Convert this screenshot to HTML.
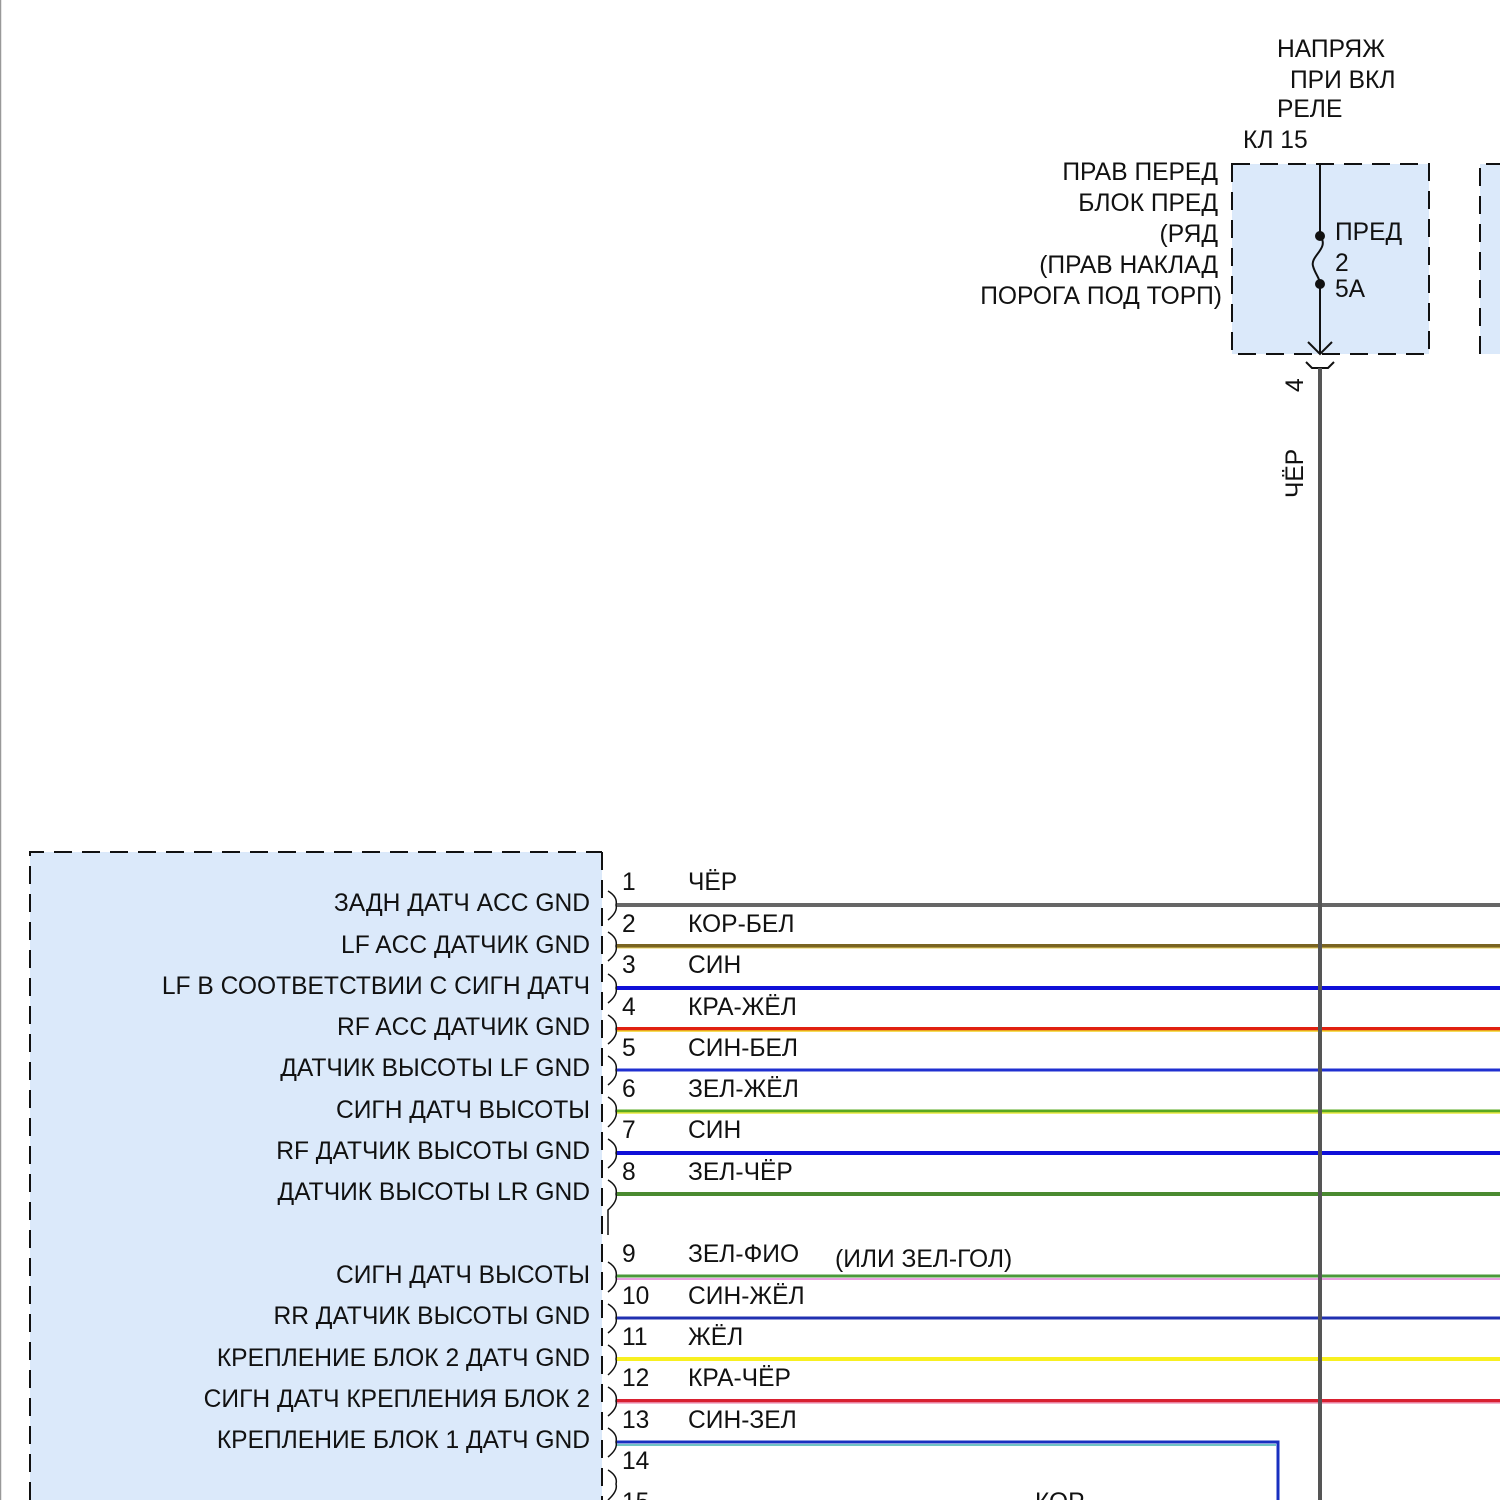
<!DOCTYPE html>
<html><head><meta charset="utf-8"><style>
html,body{margin:0;padding:0;background:#fff;}
svg{display:block;}
text{font-family:"Liberation Sans",sans-serif;font-size:24.6px;fill:#111;}
</style></head><body>
<svg width="1500" height="1500" viewBox="0 0 1500 1500" xmlns="http://www.w3.org/2000/svg">
<rect width="1500" height="1500" fill="#fff"/>
<line x1="0.5" y1="0" x2="0.5" y2="1500" stroke="#999" stroke-width="1.5"/>

<text x="1277" y="57">НАПРЯЖ</text>
<text x="1290" y="88">ПРИ ВКЛ</text>
<text x="1277" y="117">РЕЛЕ</text>
<text x="1243" y="148">КЛ 15</text>
<g text-anchor="end">
<text x="1218" y="180">ПРАВ ПЕРЕД</text>
<text x="1218" y="211">БЛОК ПРЕД</text>
<text x="1218" y="242">(РЯД</text>
<text x="1218" y="273">(ПРАВ НАКЛАД</text>
<text x="1222" y="304">ПОРОГА ПОД ТОРП)</text>
</g>

<rect x="1232" y="164" width="197" height="190" fill="#dbe9fa"/>
<rect x="1232" y="164" width="197" height="190" fill="none" stroke="#111" stroke-width="2" stroke-dasharray="18,10"/>
<rect x="1480" y="164" width="40" height="190" fill="#dbe9fa"/>
<path d="M1480 354 V164 H1500" fill="none" stroke="#111" stroke-width="2" stroke-dasharray="18,10"/>
<line x1="1320" y1="164" x2="1320" y2="236" stroke="#111" stroke-width="2"/>
<path d="M1320 236 C1330 248 1310 256 1313 266 C1315 274 1320 278 1320 284" fill="none" stroke="#111" stroke-width="2"/>
<circle cx="1320" cy="236" r="5" fill="#111"/>
<circle cx="1320" cy="284" r="5" fill="#111"/>
<line x1="1320" y1="284" x2="1320" y2="354" stroke="#111" stroke-width="2"/>
<path d="M1308 342 L1320 354 L1332 342" fill="none" stroke="#111" stroke-width="2"/>
<path d="M1306 362 L1312 368 H1328 L1334 362" fill="none" stroke="#111" stroke-width="2"/>
<text x="1335" y="240">ПРЕД</text>
<text x="1335" y="271">2</text>
<text x="1335" y="297">5A</text>
<line x1="1320" y1="368" x2="1320" y2="1500" stroke="#555" stroke-width="4"/>
<text transform="translate(1303,392) rotate(-90)" font-size="22">4</text>
<text transform="translate(1303,498) rotate(-90)" font-size="22">ЧЁР</text>

<rect x="30" y="852" width="572" height="660" fill="#dbe9fa"/>
<path d="M30 1500 V852 H602" fill="none" stroke="#111" stroke-width="2" stroke-dasharray="18,10"/>
<line x1="602" y1="852" x2="602" y2="1500" stroke="#111" stroke-width="2" stroke-dasharray="18,10"/>

<g text-anchor="end">
<text x="590" y="911">ЗАДН ДАТЧ ACC GND</text>
<text x="590" y="953">LF ACC ДАТЧИК GND</text>
<text x="590" y="994">LF В СООТВЕТСТВИИ С СИГН ДАТЧ</text>
<text x="590" y="1035">RF ACC ДАТЧИК GND</text>
<text x="590" y="1076">ДАТЧИК ВЫСОТЫ LF GND</text>
<text x="590" y="1118">СИГН ДАТЧ ВЫСОТЫ</text>
<text x="590" y="1159">RF ДАТЧИК ВЫСОТЫ GND</text>
<text x="590" y="1200">ДАТЧИК ВЫСОТЫ LR GND</text>
<text x="590" y="1283">СИГН ДАТЧ ВЫСОТЫ</text>
<text x="590" y="1324">RR ДАТЧИК ВЫСОТЫ GND</text>
<text x="590" y="1366">КРЕПЛЕНИЕ БЛОК 2 ДАТЧ GND</text>
<text x="590" y="1407">СИГН ДАТЧ КРЕПЛЕНИЯ БЛОК 2</text>
<text x="590" y="1448">КРЕПЛЕНИЕ БЛОК 1 ДАТЧ GND</text>
</g>

<g>
<line x1="616" y1="905" x2="1500" y2="905" stroke="#666" stroke-width="4"/>
<line x1="616" y1="946" x2="1500" y2="946" stroke="#7a6422" stroke-width="4"/>
<line x1="616" y1="948" x2="1500" y2="948" stroke="#e8d060" stroke-width="1"/>
<line x1="616" y1="988" x2="1500" y2="988" stroke="#1010d8" stroke-width="4"/>
<line x1="616" y1="1029" x2="1500" y2="1029" stroke="#e02010" stroke-width="4"/>
<line x1="616" y1="1031" x2="1500" y2="1031" stroke="#f0d020" stroke-width="1.5"/>
<line x1="616" y1="1070" x2="1500" y2="1070" stroke="#2030d0" stroke-width="3"/>
<line x1="616" y1="1111" x2="1500" y2="1111" stroke="#5aa820" stroke-width="3"/>
<line x1="616" y1="1113" x2="1500" y2="1113" stroke="#e8e840" stroke-width="1.5"/>
<line x1="616" y1="1153" x2="1500" y2="1153" stroke="#1010d8" stroke-width="4"/>
<line x1="616" y1="1194" x2="1500" y2="1194" stroke="#4a8a30" stroke-width="4"/>
<line x1="616" y1="1276" x2="1500" y2="1276" stroke="#4a9a3a" stroke-width="3"/>
<line x1="616" y1="1279" x2="1500" y2="1279" stroke="#e8a0e0" stroke-width="2"/>
<line x1="616" y1="1318" x2="1500" y2="1318" stroke="#2030b0" stroke-width="3"/>
<line x1="616" y1="1359" x2="1500" y2="1359" stroke="#f8f020" stroke-width="4"/>
<line x1="616" y1="1401" x2="1500" y2="1401" stroke="#d82030" stroke-width="4"/>
<line x1="616" y1="1403" x2="1500" y2="1403" stroke="#f0a0c0" stroke-width="1.5"/>
<path d="M616 1442 H1278 V1500" fill="none" stroke="#1830c0" stroke-width="3"/>
<path d="M616 1445 H1276" fill="none" stroke="#40b0b0" stroke-width="1.5"/>
</g>
<line x1="1320" y1="368" x2="1320" y2="1500" stroke="#555" stroke-width="4"/>

<g fill="none" stroke="#111" stroke-width="1.5">
<path d="M608 891 Q618 897 616 905 Q618 912 608 920"/>
<path d="M608 932 Q618 938 616 946 Q618 953 608 961"/>
<path d="M608 974 Q618 980 616 988 Q618 995 608 1003"/>
<path d="M608 1015 Q618 1021 616 1029 Q618 1036 608 1044"/>
<path d="M608 1056 Q618 1062 616 1070 Q618 1077 608 1085"/>
<path d="M608 1097 Q618 1103 616 1111 Q618 1118 608 1127"/>
<path d="M608 1139 Q618 1145 616 1153 Q618 1160 608 1168"/>
<path d="M608 1180 Q618 1186 616 1194 Q618 1201 608 1210 V1235"/>
<path d="M608 1262 Q618 1268 616 1277 Q618 1284 608 1292"/>
<path d="M608 1304 Q618 1310 616 1318 Q618 1325 608 1333"/>
<path d="M608 1345 Q618 1351 616 1359 Q618 1366 608 1375"/>
<path d="M608 1387 Q618 1393 616 1401 Q618 1408 608 1416"/>
<path d="M608 1428 Q618 1434 616 1442 Q618 1449 608 1457"/>
<path d="M608 1470 Q618 1476 616 1484 Q618 1491 608 1500"/>
</g>

<g>
<text x="622" y="890">1</text><text x="688" y="890">ЧЁР</text>
<text x="622" y="932">2</text><text x="688" y="932">КОР-БЕЛ</text>
<text x="622" y="973">3</text><text x="688" y="973">СИН</text>
<text x="622" y="1015">4</text><text x="688" y="1015">КРА-ЖЁЛ</text>
<text x="622" y="1056">5</text><text x="688" y="1056">СИН-БЕЛ</text>
<text x="622" y="1097">6</text><text x="688" y="1097">ЗЕЛ-ЖЁЛ</text>
<text x="622" y="1138">7</text><text x="688" y="1138">СИН</text>
<text x="622" y="1180">8</text><text x="688" y="1180">ЗЕЛ-ЧЁР</text>
<text x="622" y="1262">9</text><text x="688" y="1262">ЗЕЛ-ФИО</text>
<text x="835" y="1267">(ИЛИ ЗЕЛ-ГОЛ)</text>
<text x="622" y="1304">10</text><text x="688" y="1304">СИН-ЖЁЛ</text>
<text x="622" y="1345">11</text><text x="688" y="1345">ЖЁЛ</text>
<text x="622" y="1386">12</text><text x="688" y="1386">КРА-ЧЁР</text>
<text x="622" y="1428">13</text><text x="688" y="1428">СИН-ЗЕЛ</text>
<text x="622" y="1469">14</text>
<text x="622" y="1510">15</text>
<text x="1035" y="1510">КОР</text>
</g>
</svg>
</body></html>
